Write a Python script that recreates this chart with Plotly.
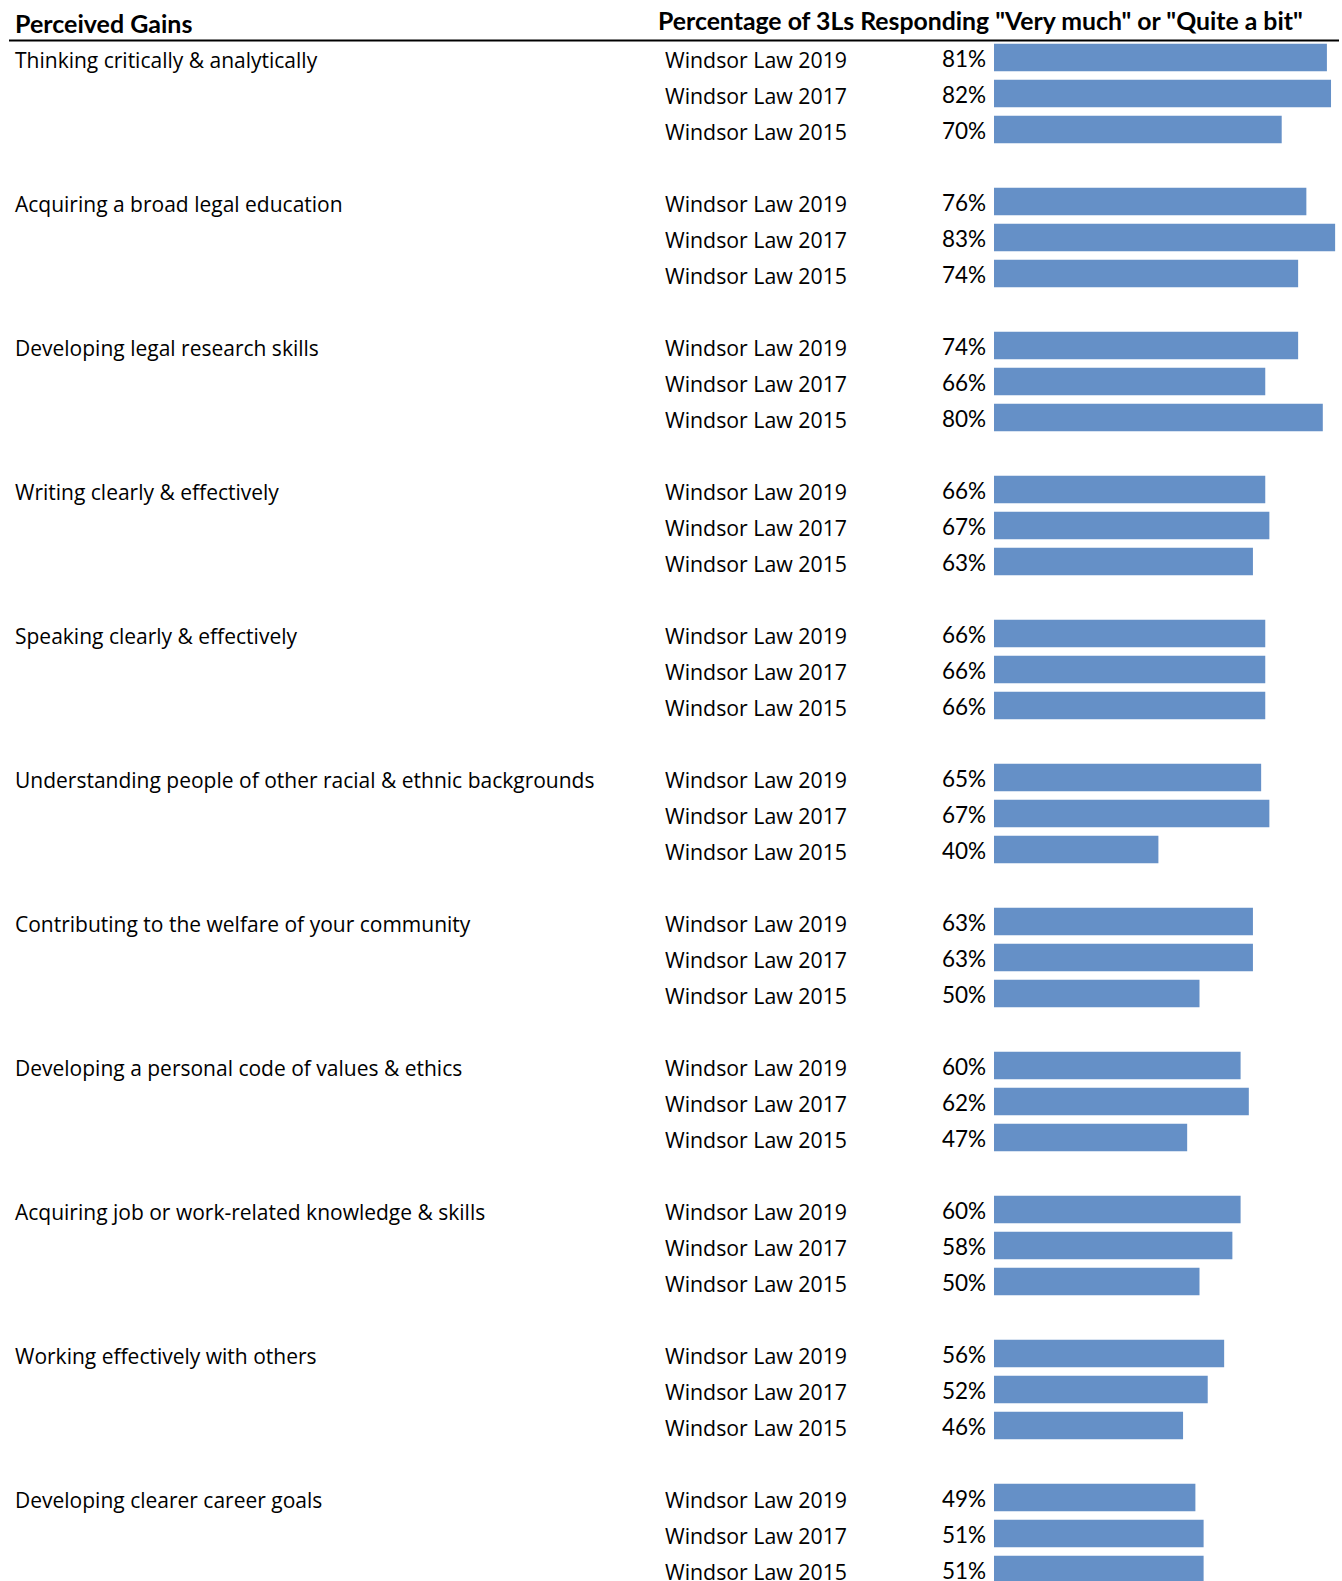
import plotly.graph_objects as go

categories = [
    "Thinking critically & analytically",
    "Acquiring a broad legal education",
    "Developing legal research skills",
    "Writing clearly & effectively",
    "Speaking clearly & effectively",
    "Understanding people of other racial & ethnic backgrounds",
    "Contributing to the welfare of your community",
    "Developing a personal code of values & ethics",
    "Acquiring job or work-related knowledge & skills",
    "Working effectively with others",
    "Developing clearer career goals",
]
series = ["Windsor Law 2019", "Windsor Law 2017", "Windsor Law 2015"]
values_2019 = [81, 76, 74, 66, 66, 65, 63, 60, 60, 56, 49]
values_2017 = [82, 83, 66, 67, 66, 67, 63, 62, 58, 52, 51]
values_2015 = [70, 74, 80, 63, 66, 40, 50, 47, 50, 46, 51]
header_left = "Perceived Gains"
header_right = 'Percentage of 3Ls Responding "Very much" or "Quite a bit"'

W, H = 1342, 1581
FONT = "Open Sans"
FONT_N = "Lato"
BAR = "#6590C7"

all_vals = [values_2019, values_2017, values_2015]
ys, xs, labels = [], [], []
for i, cat in enumerate(categories):
    for j, s in enumerate(series):
        ys.append(4 * i + j)
        xs.append(all_vals[j][i])
        labels.append(s)

fig = go.Figure()
fig.add_trace(go.Bar(
    x=xs, y=ys, orientation="h", marker=dict(color=BAR, line=dict(width=0)),
    width=0.76, hoverinfo="skip",
))

ann = []
for i, cat in enumerate(categories):
    ann.append(dict(x=13 / W, xref="paper", y=4 * i, yref="y", text=cat,
                    xanchor="left", yanchor="middle", showarrow=False,
                    font=dict(family=FONT, size=21, color="#000"), yshift=-2))
for y, x, lab in zip(ys, xs, labels):
    ann.append(dict(x=663 / W, xref="paper", y=y, yref="y", text=lab,
                    xanchor="left", yanchor="middle", showarrow=False,
                    font=dict(family=FONT, size=21.3, color="#000"), yshift=-2))
    ann.append(dict(x=0, xref="x", y=y, yref="y", text=f"{x}%",
                    xanchor="right", yanchor="middle", showarrow=False, xshift=-6,
                    font=dict(family=FONT_N, size=22.5, color="#000"), yshift=-1))
ann.append(dict(x=13 / W, xref="paper", y=1 - 23 / H, yref="paper", text=f"<b>{header_left}</b>",
                xanchor="left", yanchor="middle", showarrow=False,
                font=dict(family=FONT_N, size=25, color="#000")))
ann.append(dict(x=980 / W, xref="paper", y=1 - 20 / H, yref="paper", text=f"<b>{header_right}</b>",
                xanchor="center", yanchor="middle", showarrow=False,
                font=dict(family=FONT_N, size=24.8, color="#000")))

pitch = 36.0
y0 = 57.5
fig.update_layout(
    width=W, height=H, margin=dict(l=0, r=0, t=0, b=0),
    paper_bgcolor="white", plot_bgcolor="white",
    showlegend=False, annotations=ann,
    xaxis=dict(domain=[994 / W, 1], range=[0, (W - 994) / 4.11], visible=False),
    yaxis=dict(domain=[0, 1], range=[(H - y0) / pitch, -y0 / pitch], visible=False),
    shapes=[dict(type="line", xref="paper", yref="paper", x0=9 / W, x1=1339 / W,
                 y0=1 - 40.5 / H, y1=1 - 40.5 / H, line=dict(color="#000", width=2))],
)
fig.write_html("out.html")
